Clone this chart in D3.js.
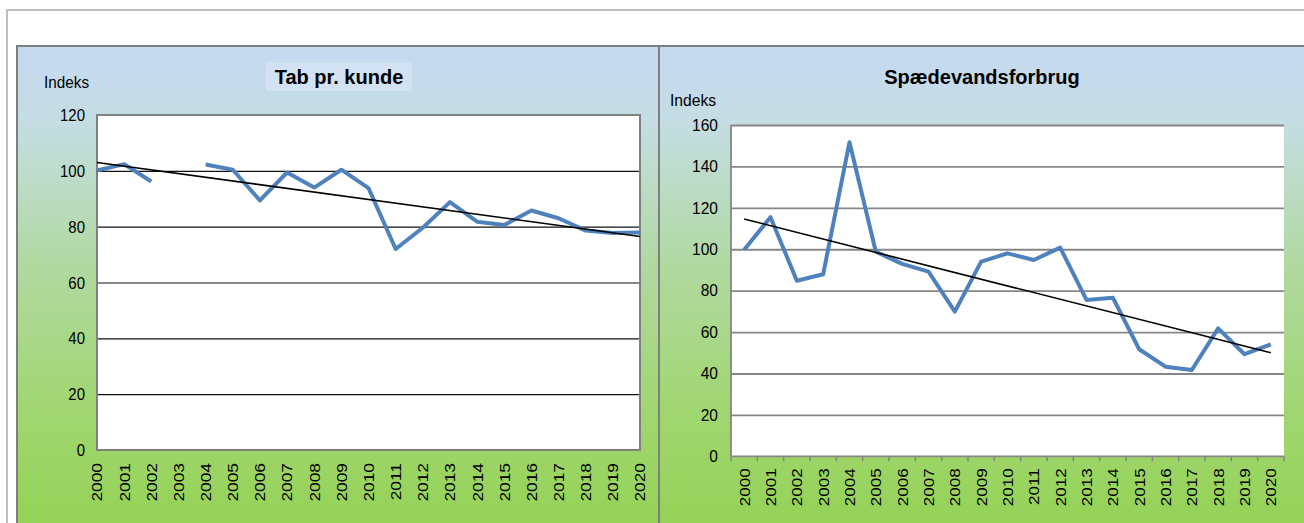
<!DOCTYPE html>
<html><head><meta charset="utf-8">
<script src="https://cdn.jsdelivr.net/npm/d3@7"></script>
<style>html,body{margin:0;padding:0;background:#fff;overflow:hidden}svg{display:block}</style>
</head><body>
<svg id="c" width="1304" height="523"></svg>
<script>
// ---------- data ----------
const years = ["2000","2001","2002","2003","2004","2005","2006","2007","2008","2009","2010",
               "2011","2012","2013","2014","2015","2016","2017","2018","2019","2020"];
const tabTitle = "Tab pr. kunde";
const tabValues = [100.1, 102.4, 96.2, null, 102.3, 100.4, 89.4, 99.4, 94.0, 100.4, 93.8,
                   72.0, 79.6, 88.8, 81.8, 80.6, 85.8, 83.0, 78.6, 77.7, 77.9];
const tabTrend = [103.0, 76.5];          // trend line at first / last year
const tabTicks = [0, 20, 40, 60, 80, 100, 120];

const spdTitle = "Spædevandsforbrug";
const spdValues = [99.7, 115.5, 84.8, 87.9, 151.7, 98.8, 92.9, 89.2, 69.9, 94.0, 98.0,
                   94.8, 100.8, 75.5, 76.6, 51.7, 43.3, 41.7, 61.8, 49.3, 54.1];
const spdTrend = [114.6, 50.0];
const spdTicks = [0, 20, 40, 60, 80, 100, 120, 140, 160];
const yLabel = "Indeks";

// ---------- drawing ----------
const FONT = "'Liberation Sans', Arial, sans-serif";
const svg = d3.select("#c");
const defs = svg.append("defs");
const g = defs.append("linearGradient").attr("id","bg").attr("x1",0).attr("y1",0).attr("x2",0).attr("y2",1);
[[0,"#c6d9f1"],[0.15,"#c5dde4"],[0.45,"#b0d9a0"],[0.75,"#a0d670"],[1,"#94d254"]]
  .forEach(([o,c]) => g.append("stop").attr("offset",o).attr("stop-color",c));

// outer light frame
svg.append("path").attr("d","M7,523 V10 H1304").attr("fill","none").attr("stroke","#bfbfbf").attr("stroke-width",2);

// panels
svg.append("rect").attr("x",17).attr("y",46).attr("width",642).attr("height",490)
  .attr("fill","url(#bg)").attr("stroke","#7f7f7f").attr("stroke-width",2);
svg.append("rect").attr("x",659).attr("y",46).attr("width",660).attr("height",490)
  .attr("fill","url(#bg)").attr("stroke","#7f7f7f").attr("stroke-width",2);

function sText(parent, txt, x, y, size, sx, anchor, weight) {
  return parent.append("text").text(txt)
    .attr("transform", `translate(${x},${y}) scale(${sx},1)`)
    .attr("text-anchor", anchor).attr("font-family", FONT)
    .attr("font-size", size).attr("font-weight", weight || "normal").attr("fill", "#000");
}

// ---------- left chart ----------
{
  const L = 97, R = 640, T = 115, B = 450;
  const x = d3.scalePoint().domain(years).range([L, R]);
  const y = d3.scaleLinear().domain([0, 120]).range([B, T]);
  const p = svg.append("g");
  // title box + title
  p.append("rect").attr("x",266).attr("y",62).attr("width",146).attr("height",29).attr("fill","#d2e2f3");
  sText(p, tabTitle, 339, 84, 20, 1, "middle", "bold");
  sText(p, yLabel, 44, 88, 17, 0.9, "start");
  p.append("rect").attr("x",L).attr("y",T).attr("width",R-L).attr("height",B-T).attr("fill","#fff");
  // gridlines via axis
  const grid = p.append("g").attr("transform",`translate(${L},0)`)
    .call(d3.axisLeft(y).tickValues(tabTicks.slice(1,-1)).tickSize(-(R-L)).tickFormat(""));
  grid.select(".domain").remove();
  grid.selectAll("line").attr("stroke","#111").attr("stroke-width",1.2);
  p.append("rect").attr("x",L).attr("y",T).attr("width",R-L).attr("height",B-T)
    .attr("fill","none").attr("stroke","#808080").attr("stroke-width",2);
  tabTicks.forEach(t => sText(p, t, 85, y(t)+6, 17, 0.88, "end"));
  years.forEach(yr => {
    p.append("text").text(yr)
      .attr("transform", `translate(${x(yr)},${B+13}) rotate(-90) scale(1.12,1)`)
      .attr("text-anchor","end").attr("dy","0.35em")
      .attr("font-family",FONT).attr("font-size",15.5).attr("fill","#000");
  });
  const line = d3.line().defined(d => d.v != null).x(d => x(d.yr)).y(d => y(d.v));
  p.append("path").datum(years.map((yr,i)=>({yr, v: tabValues[i]})))
    .attr("d", line).attr("fill","none").attr("stroke","#4f81bd").attr("stroke-width",4)
    .attr("stroke-linejoin","round");
  p.append("path").datum([{yr: years[0], v: tabTrend[0]}, {yr: years[years.length-1], v: tabTrend[1]}])
    .attr("d", line).attr("fill","none").attr("stroke","#000").attr("stroke-width",1.6);
}

// ---------- right chart ----------
{
  const L = 731, R = 1284, T = 125, B = 456.3;
  const x = d3.scaleBand().domain(years).range([L, R]);
  const cx = yr => x(yr) + x.bandwidth()/2;
  const y = d3.scaleLinear().domain([0, 160]).range([B, T]);
  const p = svg.append("g");
  sText(p, spdTitle, 982, 84, 20, 1, "middle", "bold");
  sText(p, yLabel, 670, 106, 16, 0.98, "start");
  p.append("rect").attr("x",L).attr("y",T).attr("width",R-L).attr("height",B-T).attr("fill","#fff");
  const grid = p.append("g").attr("transform",`translate(${L},0)`)
    .call(d3.axisLeft(y).tickValues(spdTicks.slice(1)).tickSize(-(R-L)).tickFormat(""));
  grid.select(".domain").remove();
  grid.selectAll("line").attr("stroke","#868686").attr("stroke-width",1.8);
  p.append("line").attr("x1",L).attr("x2",L).attr("y1",T).attr("y2",B).attr("stroke","#868686").attr("stroke-width",1.8);
  // x axis with ticks between categories
  const xa = p.append("g").attr("transform",`translate(0,${B})`);
  xa.append("line").attr("x1",L).attr("x2",R).attr("stroke","#868686").attr("stroke-width",1.8);
  years.concat([null]).forEach((yr,i) => {
    const xx = yr ? x(yr) : R;
    xa.append("line").attr("x1",xx).attr("x2",xx).attr("y1",0).attr("y2",5).attr("stroke","#868686").attr("stroke-width",1.5);
  });
  spdTicks.forEach(t => sText(p, t, 718, y(t)+5.7, 16, 0.97, "end"));
  years.forEach(yr => {
    p.append("text").text(yr)
      .attr("transform", `translate(${cx(yr)},${B+12}) rotate(-90) scale(1.1,1)`)
      .attr("text-anchor","end").attr("dy","0.35em")
      .attr("font-family",FONT).attr("font-size",15.5).attr("fill","#000");
  });
  const line = d3.line().x(d => cx(d.yr)).y(d => y(d.v));
  p.append("path").datum(years.map((yr,i)=>({yr, v: spdValues[i]})))
    .attr("d", line).attr("fill","none").attr("stroke","#4f81bd").attr("stroke-width",4)
    .attr("stroke-linejoin","round");
  p.append("path").datum([{yr: years[0], v: spdTrend[0]}, {yr: years[years.length-1], v: spdTrend[1]}])
    .attr("d", line).attr("fill","none").attr("stroke","#000").attr("stroke-width",1.6);
}
</script>
</body></html>
